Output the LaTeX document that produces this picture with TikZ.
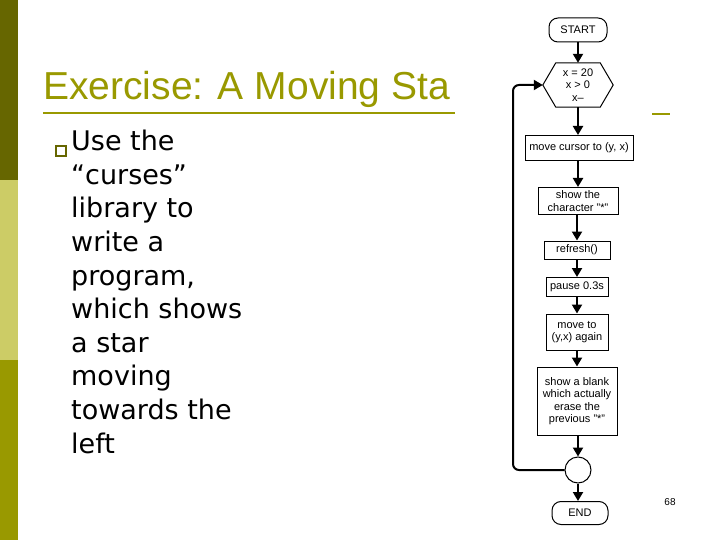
\documentclass[tikz,border=0pt]{standalone}
\usepackage{fontspec}
\setmainfont{Liberation Sans}
\newfontfamily\bodyfont{DejaVu Sans}
\usetikzlibrary{shapes.geometric,arrows.meta,calc}
\definecolor{olive}{HTML}{999900}
\definecolor{darkolive}{HTML}{666600}
\definecolor{lightolive}{HTML}{CCCC66}
\begin{document}
\begin{tikzpicture}[x=1pt,y=-1pt,
  box/.style={draw,line width=1pt,inner sep=1pt,font=\fontsize{11}{12.5}\selectfont,align=center},
  term/.style={box,rounded corners=9pt,minimum height=24pt},
  arr/.style={-{Triangle[length=9pt,width=10pt]},line width=2pt}]
\useasboundingbox (0,0) rectangle (720,540);
\fill[darkolive] (0,0) rectangle (18,180);
\fill[lightolive] (0,180) rectangle (18,360);
\fill[olive] (0,360) rectangle (18,540);
\node[anchor=base west,text=olive,font=\fontsize{39}{44}\selectfont,inner sep=0] (title) at (43,100) {Exercise: A Moving Sta};
\draw[olive,line width=2.5pt] (43,113) -- (455,113);
\draw[olive,line width=2.5pt] (652,114) -- (670,114);
\node[draw=darkolive,line width=1.2pt,minimum size=10pt,inner sep=0] (bul) at (61,151) {};
\node[anchor=north west,inner sep=0,font=\bodyfont\fontsize{27}{33.6}\selectfont,align=left] (body) at (71,130) {Use the\\“curses”\\library to\\write a\\program,\\which shows\\a star\\moving\\towards the\\left};
\node[term,minimum width=58pt] (start) at (578,30) {START};
\node[minimum width=70pt,minimum height=44pt,inner sep=0,font=\fontsize{11}{12.5}\selectfont,align=center] (hex) at (578,85) {x = 20\\x > 0\\x--};
\draw[line width=1pt] (hex.west) -- ($(hex.north west)+(13,0)$) -- ($(hex.north east)+(-13,0)$) -- (hex.east) -- ($(hex.south east)+(-13,0)$) -- ($(hex.south west)+(13,0)$) -- cycle;
\node[box,minimum width=108pt,minimum height=25pt] (b1) at (579,148) {move cursor to (y, x)};
\node[box,minimum width=80pt,minimum height=27pt] (b2) at (578,201) {show the\\character "*"};
\node[box,minimum width=66pt,minimum height=18pt] (b3) at (577,250) {refresh()};
\node[box,minimum width=62pt,minimum height=19pt] (b4) at (577,287) {pause 0.3s};
\node[box,minimum width=62pt,minimum height=36pt] (b5) at (577,332) {move to\\(y,x) again};
\node[box,minimum width=80pt,minimum height=68pt] (b6) at (577,401) {show a blank\\which actually\\erase the\\previous "*"};
\node[draw,line width=1pt,circle,minimum size=26pt,inner sep=0] (c) at (578,470) {};
\node[term,minimum width=56pt,minimum height=23pt] (end) at (580,513) {END};
\node[font=\fontsize{10}{11}\selectfont] (pg) at (670,502) {68};
\draw[arr] (start) -- (hex.north);
\draw[arr] (hex.south) -- (hex|-b1.north);
\draw[arr] (b1.south-|b2) -- (b2);
\draw[arr] (b2.south-|b3) -- (b3);
\draw[arr] (b3.south-|b4) -- (b4);
\draw[arr] (b4) -- (b5);
\draw[arr] (b5) -- (b6);
\draw[arr] (b6.south-|c) -- (c);
\draw[arr] (c) -- (c|-end.north);
\draw[arr,rounded corners=6pt] (c.west) -- (513,470) -- (513,85) -- (hex.west);
\end{tikzpicture}
\end{document}
